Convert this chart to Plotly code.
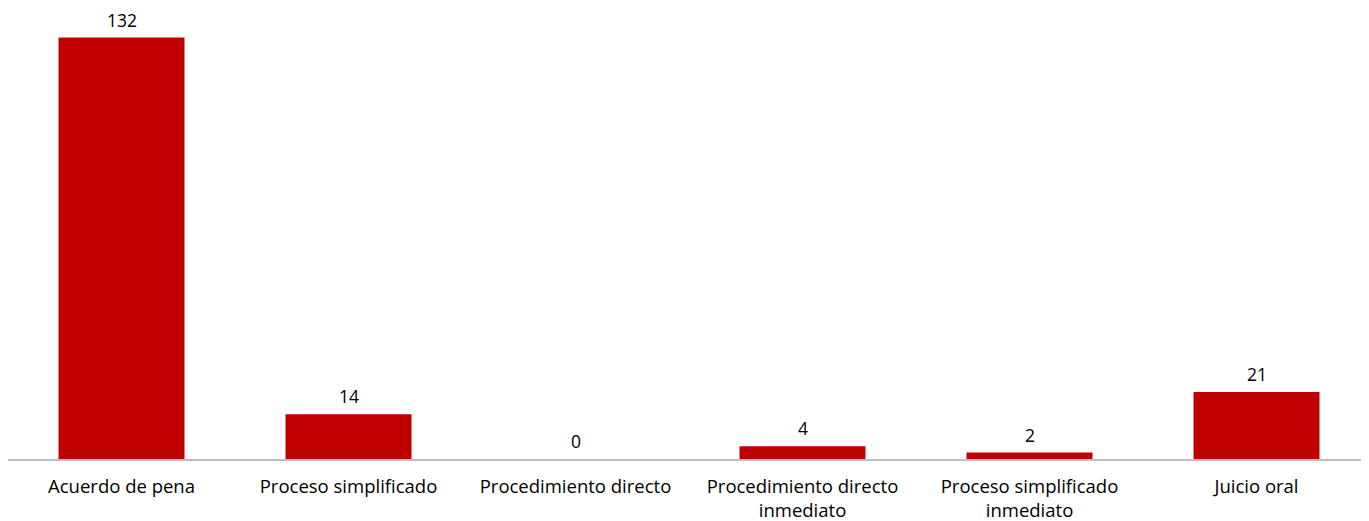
import plotly.graph_objects as go

categories = ["Acuerdo de pena", "Proceso simplificado", "Procedimiento directo",
              "Procedimiento directo<br>inmediato", "Proceso simplificado<br>inmediato", "Juicio oral"]
values = [132, 14, 0, 4, 2, 21]

bar_color = "#C00000"
font_family = "Open Sans, Lato, sans-serif"
label_size = 17.5
tick_size = 18.5

fig = go.Figure()
fig.add_trace(go.Bar(x=categories, y=values, marker=dict(color=bar_color, line=dict(width=0)),
                     hoverinfo="x+y"))

for c, v in zip(categories, values):
    fig.add_annotation(x=c, y=v, text=str(v), showarrow=False, yanchor="bottom",
                       yshift=5, borderpad=0,
                       font=dict(size=label_size, color="#000000", family=font_family))

fig.update_layout(
    width=1362, height=513,
    margin=dict(l=0, r=0, t=4, b=62, autoexpand=False),
    plot_bgcolor="white", paper_bgcolor="white",
    bargap=0.445,
    showlegend=False,
    font=dict(family=font_family, size=label_size, color="#000000"),
)
fig.update_xaxes(showline=True, linecolor="#BFBFBF", linewidth=2, ticks="", showgrid=False,
                 automargin=False, ticklabelstandoff=10,
                 tickfont=dict(size=tick_size, color="#000000"))
fig.update_yaxes(range=[0, 140], visible=False, showgrid=False, zeroline=False)

fig.write_html("out.html")
